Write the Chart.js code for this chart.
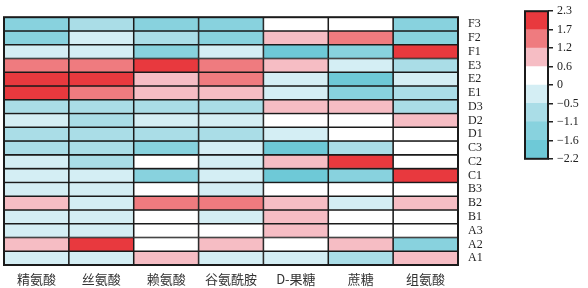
<!DOCTYPE html>
<html>
<head>
<meta charset="utf-8">
<script src="https://cdn.jsdelivr.net/npm/chart.js@4/dist/chart.umd.min.js"></script>
<style>
  html, body { margin: 0; padding: 0; background: #fff; }
  #wrap { position: relative; width: 588px; height: 288px; overflow: hidden; }
  #heat { position: absolute; left: 0; top: 0; }
  #bar { position: absolute; left: 500px; top: 0; }
</style>
</head>
<body>
<div id="wrap">
  <canvas id="heat" width="500" height="288"></canvas>
  <canvas id="bar" width="88" height="170"></canvas>
</div>
<script>
// ---- data (rows listed top to bottom) ----
const rowLabels = ['F3','F2','F1','E3','E2','E1','D3','D2','D1','C3','C2','C1','B3','B2','B1','A3','A2','A1'];
const colLabels = ['精氨酸','丝氨酸','赖氨酸','谷氨酰胺','D-果糖','蔗糖','组氨酸'];

const arginine   = [-1.35,-1.35,-0.25, 1.45, 2.0, 2.0,-0.8,-0.25,-0.8,-0.8,-0.25,-0.25,-0.25, 0.9,-0.25,-0.25, 0.9,-0.25];
const serine     = [-0.8,-0.25,-0.25, 1.45, 2.0, 1.45,-0.8,-0.8,-0.8,-0.8,-0.8,-0.25,-0.25,-0.25,-0.25,-0.25, 2.0,-0.25];
const lysine     = [-1.35,-0.8,-1.35, 2.0, 0.9, 0.9,-0.8,-0.25,-0.8,-1.35, 0.3,-1.35, 0.3, 1.45, 0.3, 0.3, 0.3, 0.9];
const glutamine  = [-1.35,-1.35,-0.25, 1.45, 1.45, 0.9,-0.8,-0.25,-0.8,-0.25,-0.25,-0.25,-0.25, 1.45,-0.25, 0.3, 0.9,-0.25];
const fructose   = [ 0.3, 0.9,-1.9, 0.9,-0.25,-0.25, 0.9, 0.3,-0.25,-1.9, 0.9,-1.9, 0.3, 0.9, 0.9, 0.9, 0.3,-0.25];
const sucrose    = [ 0.3, 1.45,-1.35,-0.25,-1.9,-1.35, 0.9, 0.3, 0.3,-0.8, 2.0,-1.35, 0.3,-0.25, 0.3, 0.3, 0.9,-0.8];
const histidine  = [-1.35,-1.35, 2.0,-0.8,-0.25,-0.8,-0.8, 0.9, 0.3, 0.3, 0.3, 2.0, 0.3, 0.9, 0.3, 0.3,-1.35, 0.9];

const columns = [arginine, serine, lysine, glutamine, fructose, sucrose, histidine];

// colour scale (bin edges, bottom to top) and tick labels
const binEdges   = [-2.2, -1.6, -1.1, -0.5, 0, 0.6, 1.2, 1.7, 2.3];
const tickLabels = ['−2.2','−1.6','−1.1','−0.5','0','0.6','1.2','1.7','2.3'];
const binColors  = ['#6ec9d7','#88d2de','#aadde7','#d4eef4','#ffffff','#f6bdc4','#ef7b7f','#e8393e'];

function colorFor(v) {
  for (let k = 0; k < binColors.length; k++) {
    if (v < binEdges[k + 1]) return binColors[k];
  }
  return binColors[binColors.length - 1];
}

const nRows = rowLabels.length;

// ---- heatmap ----
const datasets = rowLabels.map((r, i) => {
  const lo = nRows - i - 1;
  return {
    label: r,
    data: columns.map(() => [lo, lo + 1]),
    backgroundColor: columns.map(col => colorFor(col[i])),
    borderColor: '#1b1b1b',
    borderWidth: 1.1,
    borderSkipped: false,
    barPercentage: 1,
    categoryPercentage: 1,
    grouped: false
  };
});

const framePlugin = {
  id: 'frame',
  afterDatasetsDraw(chart) {
    const a = chart.chartArea, ctx = chart.ctx;
    ctx.save();
    ctx.strokeStyle = '#1b1b1b';
    ctx.lineWidth = 2;
    ctx.strokeRect(a.left, a.top, a.right - a.left, a.bottom - a.top);
    ctx.restore();
  }
};

new Chart(document.getElementById('heat'), {
  type: 'bar',
  data: { labels: colLabels, datasets },
  options: {
    responsive: false,
    animation: false,
    devicePixelRatio: 1,
    layout: { padding: { left: 4, top: 5, right: 0, bottom: 0 } },
    plugins: { legend: { display: false }, tooltip: { enabled: false } },
    scales: {
      x: {
        grid: { display: false, drawTicks: false, tickLength: 0 },
        border: { display: false },
        ticks: { color: '#333', font: { family: 'Noto Sans CJK SC', size: 13 }, padding: 6, maxRotation: 0 },
        afterFit(s) { s.height = 23; }
      },
      y: {
        type: 'linear',
        position: 'right',
        min: 0, max: nRows,
        grid: { display: false, drawTicks: false, tickLength: 0 },
        border: { display: false },
        afterBuildTicks(s) {
          s.ticks = rowLabels.map((_, i) => ({ value: nRows - i - 0.5 }));
        },
        ticks: {
          autoSkip: false,
          color: '#222',
          padding: 10,
          font: { family: 'Liberation Serif', size: 12 },
          callback: (v) => rowLabels[Math.round(nRows - v - 0.5)]
        },
        afterFit(s) { s.width = 42; }
      }
    }
  },
  plugins: [framePlugin]
});

// ---- colour bar ----
const barSets = binColors.map((c, k) => ({
  data: [[k, k + 1]],
  backgroundColor: c,
  borderWidth: 0,
  barPercentage: 1,
  categoryPercentage: 1,
  grouped: false
}));

new Chart(document.getElementById('bar'), {
  type: 'bar',
  data: { labels: [''], datasets: barSets },
  options: {
    responsive: false,
    animation: false,
    devicePixelRatio: 1,
    layout: { padding: { left: 25, top: 11, right: 0, bottom: 0 } },
    plugins: { legend: { display: false }, tooltip: { enabled: false } },
    scales: {
      x: { display: false },
      y: {
        type: 'linear',
        position: 'right',
        min: 0, max: binColors.length,
        afterBuildTicks(s) {
          s.ticks = tickLabels.map((_, k) => ({ value: k }));
        },
        grid: { drawOnChartArea: false, tickLength: 5, color: '#222', lineWidth: 1.5 },
        border: { display: false },
        ticks: {
          autoSkip: false,
          color: '#222',
          padding: 4,
          font: { family: 'Liberation Serif', size: 12 },
          callback: (v) => tickLabels[Math.round(v)]
        },
        afterFit(s) { s.width = 40; }
      }
    }
  },
  plugins: [framePlugin]
});
</script>
</body>
</html>
